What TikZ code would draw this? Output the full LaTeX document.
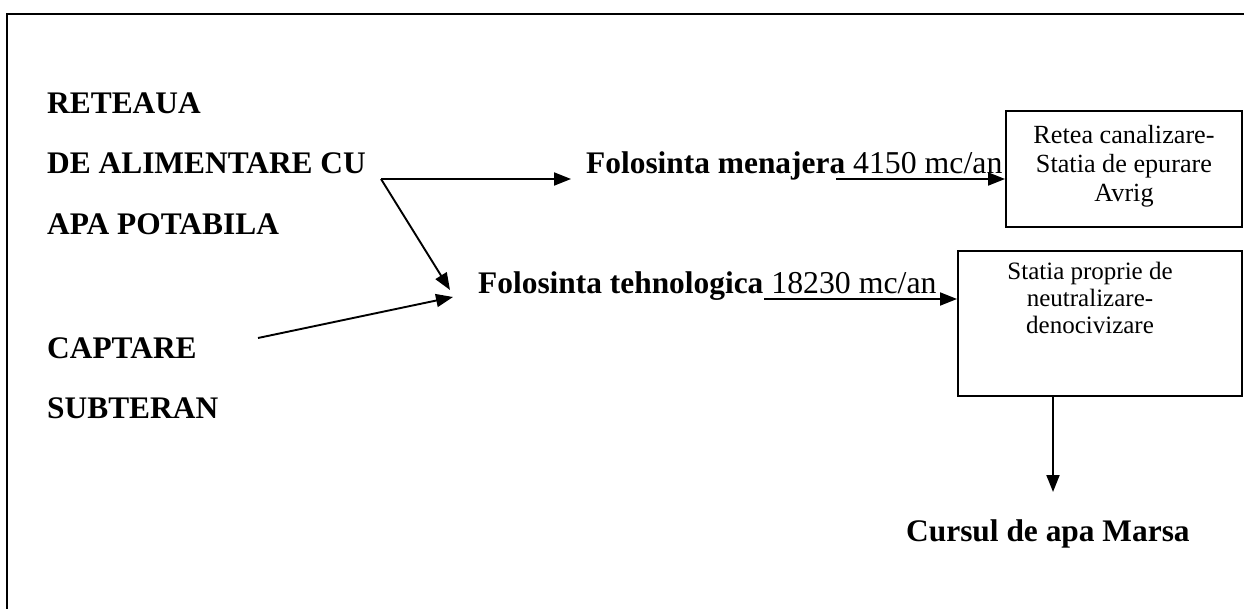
\documentclass[tikz,border=0pt]{standalone}
\usepackage{fontspec}
\setmainfont{Liberation Serif}
\usetikzlibrary{arrows.meta}
\begin{document}
\begin{tikzpicture}[x=1pt,y=-1pt,
  bigb/.style={font=\fontsize{31.4}{37}\selectfont\bfseries, inner sep=0pt, anchor=base west},
  big/.style={font=\fontsize{31.8}{37}\selectfont, inner sep=0pt, anchor=base west},
  boxtxtA/.style={font=\fontsize{26.2}{30}\selectfont, inner sep=0pt, anchor=base},
  boxtxtB/.style={font=\fontsize{25}{30}\selectfont, inner sep=0pt, anchor=base},
  boxnode/.style={draw, line width=1.9pt, inner sep=0pt, anchor=north west},
  arr/.style={line width=1.9pt, -{Triangle[length=17pt,width=13pt]}},
]
\useasboundingbox (0,0) rectangle (1244,609);
\draw[line width=2.8pt] (7,609) -- (7,14) -- (1244,14);

% left texts
\node[bigb] (r1) at (47,114) {RETEAUA};
\node[bigb] (r2) at (47,174) {DE ALIMENTARE CU};
\node[bigb] (r3) at (47,235) {APA POTABILA};
\node[bigb] (c1) at (47,358) {CAPTARE};
\node[bigb] (c2) at (47,418) {SUBTERAN};

% middle texts
\node[big] (fm) at (586,174) {{\bfseries\fontsize{31.4}{37}\selectfont Folosinta menajera} 4150 mc/an};
\node[big] (ft) at (478,294) {{\bfseries\fontsize{31.4}{37}\selectfont Folosinta tehnologica} 18230 mc/an};

% boxes
\node[boxnode, minimum width=236pt, minimum height=116pt] (box1) at (1005,110) {};
\node[boxnode, minimum width=284pt, minimum height=145pt] (box2) at (957,250) {};

\node[boxtxtA] (b1l1) at (1124,144) {Retea canalizare-};
\node[boxtxtA] (b1l2) at (1124,173) {Statia de epurare};
\node[boxtxtA] (b1l3) at (1124,202) {Avrig};

\node[boxtxtB] (b2l1) at (1090,280) {Statia proprie de};
\node[boxtxtB] (b2l2) at (1090,307) {neutralizare-};
\node[boxtxtB] (b2l3) at (1090,334) {denocivizare};

\node[bigb] (cm) at (906,541) {Cursul de apa Marsa};

% connectors
\coordinate (a0) at (381,179);
\coordinate (a1) at (571,179);
\coordinate (a2) at (450,290);
\coordinate (s0) at (258,338);
\coordinate (s1) at (453,297);
\coordinate (m0) at (836,179);
\coordinate (t0) at (764,299);
\coordinate (d0) at (1053,492);

\draw[arr] (a0) -- (a1);
\draw[arr] (a0) -- (a2);
\draw[arr] (s0) -- (s1);
\draw[arr] (m0) -- (m0 -| box1.west);
\draw[arr] (t0) -- (t0 -| box2.west);
\draw[arr] (box2.south -| d0) -- (d0);
\end{tikzpicture}
\end{document}
